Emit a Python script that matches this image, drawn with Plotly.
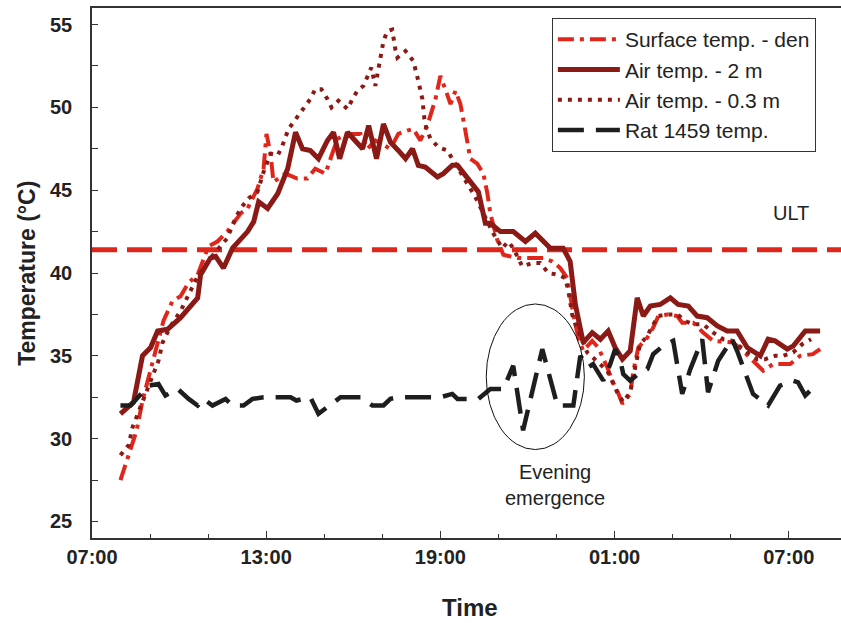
import plotly.graph_objects as go

# ---------------- data (hours since 00:00 of day 1; >24 = next day) ----------------
surf_t = [7.98, 8.26, 8.54, 8.74, 8.95, 9.19, 9.46, 9.77, 10.05, 10.32, 10.64, 10.84, 11.01, 11.32,
          11.66, 11.87, 12.12, 12.36, 12.53, 12.70, 12.91, 13.01, 13.15, 13.25, 13.66, 14.07, 14.42,
          14.69, 15.04, 15.21, 15.45, 15.80, 16.25, 16.49, 16.76, 17.28, 17.55, 17.86, 18.07, 18.31,
          18.55, 18.83, 19.00, 19.17, 19.35, 19.52, 19.69, 19.86, 20.03, 20.27, 20.48, 20.62, 20.72,
          20.96, 21.17, 21.65, 22.55, 22.86, 23.13, 23.37, 23.47, 23.58, 23.75, 23.92, 24.23, 24.44,
          24.75, 24.92, 25.09, 25.27, 25.54, 25.65, 25.82, 26.13, 26.33, 26.51, 26.82, 27.16, 27.33,
          27.71, 28.05, 28.40, 29.08, 29.43, 29.77, 30.12, 30.46, 31.05, 31.39, 31.83, 32.08]
surf_v = [27.5, 29.0, 30.5, 32.3, 33.8, 35.3, 37.1, 38.3, 38.6, 39.4, 39.9, 40.9, 41.6, 41.9,
          42.5, 43.0, 43.6, 43.9, 44.5, 45.1, 46.3, 48.4, 47.2, 45.5, 46.0, 45.7, 45.7,
          46.3, 46.0, 46.9, 48.1, 48.4, 48.4, 47.5, 48.0, 47.5, 48.4, 48.6, 48.7, 48.0,
          48.9, 50.5, 51.9, 51.1, 50.2, 51.0, 50.2, 48.6, 46.9, 46.6, 46.0, 44.8, 43.6,
          42.0, 41.1, 40.9, 40.9, 40.7, 40.3, 39.7, 38.5, 37.5, 36.1, 35.3, 35.9, 35.5,
          34.3, 33.5, 32.9, 32.1, 32.7, 34.1, 35.5, 36.1, 36.7, 37.4, 37.5, 37.4, 37.0,
          37.0, 36.4, 35.9, 35.8, 35.3, 34.7, 34.1, 34.5, 34.5, 35.0, 35.1, 35.4]

air2_t = [7.98, 8.43, 8.74, 9.02, 9.26, 9.60, 10.05, 10.64, 10.74, 11.08, 11.26, 11.53, 11.84,
          12.36, 12.57, 12.74, 13.05, 13.40, 13.74, 14.01, 14.25, 14.52, 14.80, 15.11, 15.32,
          15.53, 15.80, 16.32, 16.53, 16.80, 17.04, 17.28, 17.55, 17.80, 18.04, 18.24, 18.48,
          18.90, 19.10, 19.41, 19.59, 19.93, 20.31, 20.55, 20.72, 21.07, 21.51, 21.93, 22.27,
          22.79, 23.23, 23.47, 23.65, 23.92, 24.23, 24.51, 24.78, 25.02, 25.27, 25.54, 25.78,
          25.99, 26.23, 26.57, 26.92, 27.19, 27.54, 27.85, 28.19, 28.54, 28.88, 29.22, 29.57,
          30.02, 30.29, 30.53, 30.95, 31.16, 31.57, 32.08]
air2_v = [31.5, 32.2, 35.0, 35.5, 36.5, 36.6, 37.3, 38.5, 39.9, 40.9, 41.0, 40.3, 41.5,
          42.5, 43.1, 44.3, 43.9, 44.8, 46.3, 48.5, 47.5, 47.4, 46.9, 48.0, 48.5,
          46.9, 48.5, 47.5, 48.9, 46.9, 49.0, 47.9, 47.4, 46.9, 47.5, 46.5, 46.4,
          45.8, 46.0, 46.5, 46.5, 45.7, 44.9, 43.0, 43.0, 42.5, 42.5, 41.9, 42.4,
          41.5, 41.5, 40.7, 38.1, 35.8, 36.4, 36.0, 36.5, 35.5, 34.8, 35.3, 38.5,
          37.4, 38.0, 38.1, 38.5, 38.1, 38.0, 37.4, 37.3, 36.8, 36.5, 36.5, 35.5,
          35.0, 36.0, 35.9, 35.4, 35.6, 36.5, 36.5]

air03_t = [7.98, 8.26, 8.40, 8.78, 9.02, 9.29, 9.43, 9.71, 10.05, 10.32, 10.64, 11.08, 11.66,
           11.94, 12.12, 12.39, 12.70, 12.91, 13.15, 13.40, 13.56, 13.77, 14.01, 14.28, 14.52,
           14.69, 14.90, 15.11, 15.25, 15.49, 15.80, 15.97, 16.14, 16.35, 16.48, 16.62, 16.76,
           16.86, 16.93, 17.04, 17.17, 17.34, 17.45, 17.52, 17.80, 18.07, 18.24, 18.38, 18.45,
           18.52, 18.66, 18.93, 19.24, 19.41, 20.20, 20.82, 21.13, 21.34, 21.51, 21.82, 22.17,
           22.44, 22.72, 23.03, 23.30, 23.41, 23.54, 23.65, 24.06, 24.44, 24.75, 24.96, 25.09,
           25.30, 25.54, 25.71, 25.88, 26.13, 26.30, 26.51, 26.82, 27.16, 27.44, 27.71, 28.05,
           28.40, 28.74, 29.08, 29.57, 29.91, 30.19, 30.53, 30.80, 31.15, 31.46, 31.77]
air03_v = [29.0, 29.6, 30.7, 32.4, 33.6, 34.7, 35.8, 36.8, 37.7, 38.7, 39.8, 40.9, 42.1,
           43.3, 43.9, 44.5, 44.9, 46.1, 47.2, 47.1, 47.7, 48.7, 49.3, 49.9, 50.5,
           51.1, 51.1, 50.5, 50.0, 50.4, 49.9, 50.5, 51.0, 51.3, 51.9, 52.4, 51.3,
           52.3, 52.9, 54.0, 54.6, 54.7, 53.5, 53.0, 53.4, 52.8, 51.6, 50.5, 49.3,
           48.7, 48.1, 47.6, 47.4, 46.9, 44.6, 42.4, 41.5, 41.9, 41.5, 40.4, 40.6,
           40.6, 40.0, 39.9, 39.7, 38.9, 37.5, 36.9, 35.2, 34.6, 34.1, 33.3, 32.8,
           32.2, 32.8, 34.3, 35.7, 36.2, 36.8, 37.4, 37.5, 37.5, 37.1, 36.9, 36.9,
           36.4, 36.0, 35.9, 35.2, 34.8, 34.8, 35.0, 35.0, 35.2, 35.7, 36.0]

rat_t = [7.98, 8.33, 8.95, 9.29, 9.53, 9.95, 10.33, 10.64, 10.84, 11.15, 11.60, 11.84, 12.22,
         12.53, 12.91, 13.84, 14.04, 14.52, 14.80, 15.56, 16.25, 16.66, 17.04, 17.28, 17.55,
         19.00, 19.41, 19.59, 20.31, 20.72, 21.17, 21.51, 21.85, 22.51, 23.03, 23.58, 23.82,
         24.09, 24.26, 24.61, 24.85, 25.02, 25.19, 25.30, 25.54, 25.88, 26.13, 26.33, 26.67,
         27.02, 27.33, 27.61, 28.02, 28.22, 28.57, 29.05, 29.22, 29.77, 30.29, 30.70, 31.15,
         31.32, 31.57, 31.80]
rat_v = [32.0, 32.0, 33.2, 33.3, 32.6, 33.0, 32.4, 32.0, 32.4, 32.0, 32.4, 32.0, 32.0,
         32.4, 32.5, 32.5, 32.3, 32.5, 31.5, 32.5, 32.5, 32.0, 32.0, 32.4, 32.5,
         32.5, 32.7, 32.4, 32.4, 33.0, 33.0, 34.4, 30.5, 35.4, 32.0, 32.0, 35.0,
         34.3, 34.5, 33.5, 34.5, 35.4, 34.8, 33.9, 33.5, 34.0, 34.2, 35.1, 35.6,
         35.9, 32.7, 34.2, 36.0, 32.8, 34.7, 36.0, 35.3, 32.7, 32.0, 33.2, 33.5,
         33.4, 32.6, 33.0]

ult_value = 41.4
x_tick_vals = [7, 13, 19, 25, 31]
x_tick_text = ["07:00", "13:00", "19:00", "01:00", "07:00"]
y_tick_vals = [25, 30, 35, 40, 45, 50, 55]
series_names = ["Surface temp. - den", "Air temp. - 2 m", "Air temp. - 0.3 m", "Rat 1459 temp."]

# ---------------- styles ----------------
RED = "#E0261B"
DARK = "#8B1A16"
BLACK = "#1E1E1E"
FONT = "Liberation Sans, Arial"

fig = go.Figure()
fig.add_trace(go.Scatter(x=surf_t, y=surf_v, mode="lines", name=series_names[0],
                         line=dict(color=RED, width=4, dash="16px,6px,4px,6px")))
fig.add_trace(go.Scatter(x=air2_t, y=air2_v, mode="lines", name=series_names[1],
                         line=dict(color=DARK, width=5)))
fig.add_trace(go.Scatter(x=air03_t, y=air03_v, mode="lines", name=series_names[2],
                         line=dict(color=DARK, width=4, dash="4px,6px")))
fig.add_trace(go.Scatter(x=rat_t, y=rat_v, mode="lines", name=series_names[3],
                         line=dict(color=BLACK, width=4.5, dash="26px,12px")))

# ULT line
fig.add_shape(type="line", xref="paper", yref="y", x0=0, x1=1, y0=ult_value, y1=ult_value,
              line=dict(color=RED, width=5, dash="25px,10px"), layer="below")
# Evening emergence ellipse
fig.add_shape(type="circle", xref="x", yref="y", x0=20.58, x1=23.96, y0=29.34, y1=38.13,
              line=dict(color="#111111", width=1))

fig.add_annotation(x=31.08, y=43.6, text="ULT", showarrow=False, xref="x", yref="y",
                   font=dict(family=FONT, size=20, color="#222"))
fig.add_annotation(x=22.96, y=27.2, text="Evening<br>emergence", showarrow=False,
                   xref="x", yref="y",
                   font=dict(family=FONT, size=20, color="#222"))

# axis titles
fig.add_annotation(x=-0.087, y=0.5, xref="paper", yref="paper", text="<b>Temperature (°C)</b>",
                   textangle=-90, showarrow=False, xanchor="center", yanchor="middle",
                   font=dict(family=FONT, size=23, color="#222"))
fig.add_annotation(x=0.505, y=-0.131, xref="paper", yref="paper", text="<b>Time</b>",
                   showarrow=False, xanchor="center", yanchor="middle",
                   font=dict(family=FONT, size=24, color="#222"))

fig.update_layout(
    width=841, height=623,
    margin=dict(l=92, r=0, t=8, b=85),
    paper_bgcolor="white", plot_bgcolor="white",
    showlegend=True,
    legend=dict(x=0.614, y=0.981, xanchor="left", yanchor="top",
                bgcolor="white", bordercolor="#333", borderwidth=1,
                font=dict(family=FONT, size=21, color="#222"),
                itemwidth=62),
    font=dict(family=FONT, color="#222"),
)
fig.update_xaxes(range=[7, 32.8], tickvals=x_tick_vals, ticktext=x_tick_text,
                 ticks="inside", ticklen=7, tickcolor="#333", tickwidth=1,
                 minor=dict(tickvals=[9, 11, 15, 17, 21, 23, 27, 29], ticks="inside",
                            ticklen=4, tickcolor="#333"),
                 showline=True, linecolor="#333", linewidth=1.5, mirror=True,
                 showgrid=False, zeroline=False, ticklabelstandoff=0,
                 tickfont=dict(family=FONT, size=20, color="#222", weight="bold"))
fig.update_yaxes(range=[24, 56], tickvals=y_tick_vals,
                 ticks="inside", ticklen=6, tickcolor="#333", tickwidth=1,
                 minor=dict(dtick=2.5, tick0=25, ticks="inside", ticklen=6, tickcolor="#333"),
                 showline=True, linecolor="#333", linewidth=1.5,
                 showgrid=False, zeroline=False, ticklabelstandoff=14,
                 tickfont=dict(family=FONT, size=20, color="#222", weight="bold"))

fig.write_html("out.html")
